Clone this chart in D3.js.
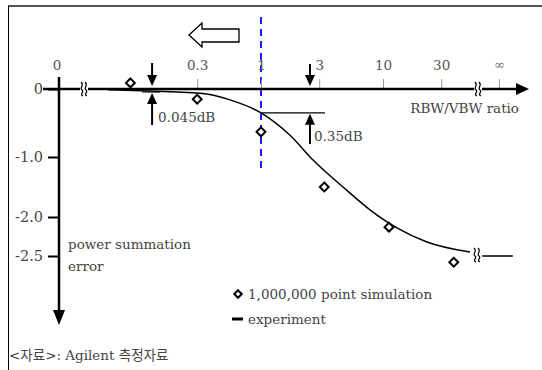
<!DOCTYPE html>
<html>
<head>
<meta charset="utf-8">
<script src="https://cdn.jsdelivr.net/npm/d3@7.9.0/dist/d3.min.js"></script>
<style>
  body { margin: 0; background: #fff; }
  text { font-family: "DejaVu Serif", "Noto Sans CJK KR", serif; font-size: 13.5px; fill: #444; }
</style>
</head>
<body>
<svg id="chart" width="542" height="370"></svg>
<script>
// x axis: RBW/VBW ratio (log), y axis: power summation error (dB)
const xTickValues = [0.3, 1, 3, 10, 30];
const xTickLabels = ["0.3", "1", "3", "10", "30"];
const yTickValues = [0, -1.0, -2.0, -2.5];
const yTickLabels = ["0", "-1.0", "-2.0", "-2.5"];

// 1,000,000 point simulation (diamonds)
const simRatio = [0.085, 0.3, 1, 3.3, 11.2, 38];
const simError = [0.09, -0.15, -0.63, -1.5, -2.13, -2.58];

// experiment (line)
const expRatio = [0.056, 0.123, 0.347, 0.557, 1, 1.73, 2.67, 4.7, 7.82, 13.0, 22.9, 51.6];
const expError = [-0.01, -0.03, -0.07, -0.16, -0.35, -0.68, -1.05, -1.5, -1.88, -2.14, -2.32, -2.45];
const infError = -2.5; // experiment at ratio = infinity

// marked differences
const markRatioA = 0.128, markErrA = -0.045;
const markRatioB = 2.52, markErrB = -0.35;

const svg = d3.select("#chart");

// stand-ins on the log scale for the broken axis ends
const RATIO_ZERO_BREAK = 0.0354;
const RATIO_INF_BREAK = 60;
const RATIO_INF = 90;

const x = d3.scaleLog().domain([0.1, 10]).range([139, 383]);
// hand-drawn vertical axis is not evenly spaced
const y = d3.scaleLinear().domain(yTickValues).range([89, 157, 217, 256]);
const axisX = 59;

// frame
svg.append("line").attr("x1", 8).attr("x2", 542).attr("y1", 6).attr("y2", 6)
  .attr("stroke", "#555").attr("stroke-width", 2);
svg.append("line").attr("x1", 8.5).attr("x2", 8.5).attr("y1", 6).attr("y2", 370)
  .attr("stroke", "#000").attr("stroke-width", 1);

// blue dashed line at ratio 1
svg.append("line")
  .attr("x1", x(1)).attr("x2", x(1)).attr("y1", 17).attr("y2", 170)
  .attr("stroke", "#1a1aff").attr("stroke-width", 2).attr("stroke-dasharray", "7,5");

// x ticks (gray, above the axis)
const gx = svg.append("g").attr("transform", `translate(0,${y(0)})`)
  .call(d3.axisTop(x).tickValues(xTickValues).tickFormat((d, i) => xTickLabels[i])
    .tickSize(10).tickPadding(9));
gx.select(".domain").remove();
gx.selectAll(".tick line").attr("stroke", "#999");
gx.selectAll(".tick text").attr("font-size", null).attr("font-family", null).attr("fill", null)
  .style("fill", "#555");

// extra labels: 0 and infinity
svg.append("text").attr("x", axisX - 2).attr("y", 70).attr("text-anchor", "middle")
  .style("fill", "#555").text("0");
svg.append("line").attr("x1", x(RATIO_INF)).attr("x2", x(RATIO_INF))
  .attr("y1", y(0) - 10).attr("y2", y(0)).attr("stroke", "#999");
svg.append("text").attr("x", x(RATIO_INF)).attr("y", 69).attr("text-anchor", "middle")
  .style("font-size", "13px").style("fill", "#777").text("∞");

// y axis ticks
const gy = svg.append("g").attr("transform", `translate(${axisX},0)`)
  .call(d3.axisLeft(y).tickValues(yTickValues).tickFormat((d, i) => yTickLabels[i])
    .tickSize(11).tickPadding(5));
gy.select(".domain").remove();
gy.selectAll(".tick line").attr("stroke", "#000").attr("stroke-width", 2);
gy.selectAll(".tick text").attr("font-size", null).attr("font-family", null).attr("fill", null)
  .style("font-size", "14.5px");

// x axis line + arrow
svg.append("line").attr("x1", 43).attr("x2", 517).attr("y1", y(0)).attr("y2", y(0))
  .attr("stroke", "#000").attr("stroke-width", 2.5);
svg.append("path")
  .attr("d", `M${516},${y(0) - 6}L${529},${y(0)}L${516},${y(0) + 6}Z`).attr("fill", "#000");

// y axis line + arrow
svg.append("line").attr("x1", axisX).attr("x2", axisX).attr("y1", 77).attr("y2", 312)
  .attr("stroke", "#000").attr("stroke-width", 2.5);
svg.append("path")
  .attr("d", `M${axisX - 6},${310}L${axisX},${325}L${axisX + 6},${310}Z`).attr("fill", "#000");

// break marks
function squiggle(cx, cy) {
  const g = svg.append("g");
  g.append("rect").attr("x", cx - 4).attr("y", cy - 3).attr("width", 8).attr("height", 6).attr("fill", "#fff");
  [-2, 2].forEach(dx => {
    const p = d3.path();
    p.moveTo(cx + dx - 1, cy - 7);
    p.bezierCurveTo(cx + dx + 3, cy - 4, cx + dx - 3, cy - 1, cx + dx, cy + 1);
    p.bezierCurveTo(cx + dx + 3, cy + 3, cx + dx - 3, cy + 5, cx + dx + 1, cy + 7);
    g.append("path").attr("d", p.toString()).attr("fill", "none")
      .attr("stroke", "#000").attr("stroke-width", 1.2);
  });
}
squiggle(x(RATIO_ZERO_BREAK), y(0));
squiggle(x(RATIO_INF_BREAK), y(0));

// experiment curve
const expData = expRatio.map((r, i) => [r, expError[i]]);
const line = d3.line().x(d => x(d[0])).y(d => y(d[1])).curve(d3.curveMonotoneX);
svg.append("path").datum(expData).attr("d", line)
  .attr("fill", "none").attr("stroke", "#000").attr("stroke-width", 1.5);
// tail at infinity
svg.append("line").attr("x1", x(65)).attr("x2", x(116))
  .attr("y1", y(infError)).attr("y2", y(infError))
  .attr("stroke", "#000").attr("stroke-width", 1.5);
squiggle(x(RATIO_INF_BREAK) - 1, (y(expError[expError.length - 1]) + y(infError)) / 2 + 1);

// simulation diamonds
const diamond = d3.symbol().type(d3.symbolDiamond2).size(50);
svg.selectAll(".sim").data(simRatio).join("path")
  .attr("class", "sim")
  .attr("transform", (d, i) => `translate(${x(d)},${y(simError[i])})`)
  .attr("d", diamond)
  .attr("fill", "#fff").attr("stroke", "#000").attr("stroke-width", 2);

// arrows
function arrow(x0, yFrom, yTo) {
  const dir = yTo > yFrom ? 1 : -1;
  svg.append("line").attr("x1", x0).attr("x2", x0).attr("y1", yFrom).attr("y2", yTo - dir * 9)
    .attr("stroke", "#000").attr("stroke-width", 2);
  svg.append("path")
    .attr("d", `M${x0 - 5},${yTo - dir * 11}L${x0},${yTo}L${x0 + 5},${yTo - dir * 11}Z`)
    .attr("fill", "#000");
}
const xa = x(markRatioA);
arrow(xa, 63, y(0) - 3);
arrow(xa, 125, y(markErrA) + 1);
svg.append("line").attr("x1", xa - 10).attr("x2", xa + 8)
  .attr("y1", y(markErrA)).attr("y2", y(markErrA)).attr("stroke", "#000").attr("stroke-width", 1);
svg.append("text").attr("x", xa + 6).attr("y", 122).text("0.045dB");

const xb = x(markRatioB);
arrow(xb, 64, y(0) - 3);
arrow(xb, 144, y(markErrB) + 1);
svg.append("line").attr("x1", x(1)).attr("x2", xb + 15)
  .attr("y1", y(markErrB)).attr("y2", y(markErrB)).attr("stroke", "#000").attr("stroke-width", 1.2);
svg.append("text").attr("x", xb + 4).attr("y", 141).text("0.35dB");

// big hollow arrow pointing left
svg.append("path")
  .attr("d", "M189,35L202,23L202,29L239,29L239,42L202,42L202,47Z")
  .attr("fill", "#fff").attr("stroke", "#000").attr("stroke-width", 1.3);

// axis titles
svg.append("text").attr("x", 519).attr("y", 113).attr("text-anchor", "end").text("RBW/VBW ratio");
svg.append("text").attr("x", 68).attr("y", 249).text("power summation");
svg.append("text").attr("x", 68).attr("y", 271).text("error");

// legend
svg.append("path").attr("transform", "translate(238,294)").attr("d", d3.symbol().type(d3.symbolDiamond2).size(36))
  .attr("fill", "#fff").attr("stroke", "#000").attr("stroke-width", 2);
svg.append("text").attr("x", 248).attr("y", 299).text("1,000,000 point simulation");
svg.append("line").attr("x1", 232).attr("x2", 243).attr("y1", 319).attr("y2", 319)
  .attr("stroke", "#000").attr("stroke-width", 3);
svg.append("text").attr("x", 248).attr("y", 324).text("experiment");

// source
svg.append("text").attr("x", 9).attr("y", 360).text("<자료>: Agilent 측정자료");
</script>
</body>
</html>
